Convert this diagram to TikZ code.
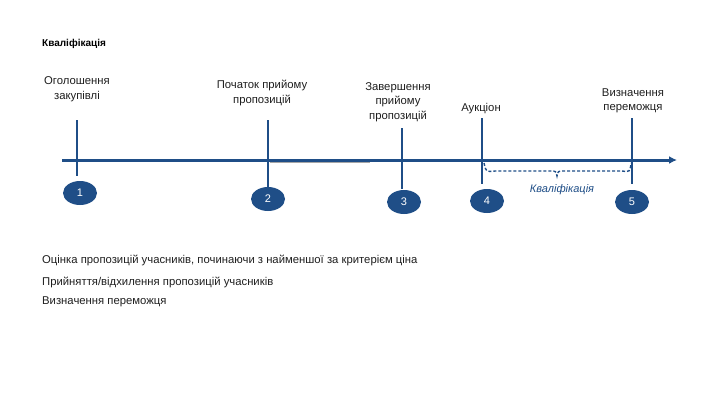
\documentclass[tikz,border=0pt]{standalone}
\usepackage{fontspec}
\setmainfont{Liberation Sans}
\usetikzlibrary{arrows.meta,shapes.geometric}
\definecolor{navy}{RGB}{31,78,135}
\definecolor{txt}{RGB}{30,30,30}
\begin{document}
\begin{tikzpicture}[x=1pt,y=-1pt,
  lbl/.style={font=\fontsize{11.3}{14.5}\selectfont,text=txt,align=center,inner sep=0},
  num/.style={ellipse,fill=navy,text=white,minimum width=34,minimum height=24,inner sep=0,font=\fontsize{11}{12}\selectfont},
  tick/.style={draw=navy,line width=2pt},
  body/.style={font=\fontsize{11.3}{14}\selectfont,text=txt,anchor=west,inner sep=0}]
\useasboundingbox (0,0) rectangle (720,405);
\node[font=\bfseries\fontsize{10}{12}\selectfont,anchor=west,inner sep=0] (t) at (42,44) {Кваліфікація};
\coordinate (a0) at (62,160); \coordinate (a1) at (677,160);
\draw[gray!70,line width=1.8pt] (270,162.5) -- (370,162.5);
\draw[navy,line width=3pt,-{Latex[length=8pt,width=8pt]}] (a0) -- (a1);
\node[num] (n1) at (80,193) {1};
\node[num] (n2) at (268,199) {2};
\node[num] (n3) at (404,202) {3};
\node[num] (n4) at (487,201) {4};
\node[num] (n5) at (632,202) {5};
\coordinate (t1) at (77,120); \coordinate (t2) at (268,120); \coordinate (t3) at (402,128);
\coordinate (t4) at (482,118); \coordinate (t5) at (632,118);
\draw[tick] (t1) -- (77,176);
\draw[tick] (t2) -- (268,187);
\draw[tick] (t3) -- (402,189);
\draw[tick] (t4) -- (482,184);
\draw[tick] (t5) -- (632,184);
\node[lbl] (l1) at (77,89) {Оголошення\\закупівлі};
\node[lbl] (l2) at (262,93) {Початок прийому\\пропозицій};
\node[lbl] (l3) at (398,102) {Завершення\\прийому\\пропозицій};
\node[lbl] (l4) at (481,109) {Аукціон};
\node[lbl] (l5) at (633,101) {Визначення\\переможця};
\draw[navy,densely dashed,line width=1.4pt] (484,163) .. controls (486,172) .. (495,171) -- (550,171) .. controls (556,171) .. (557,176) .. controls (558,171) .. (564,171) -- (622,171) .. controls (630,172) .. (631,163);
\node[lbl,font=\itshape\fontsize{11}{12}\selectfont,text=navy] (q) at (562,190) {Кваліфікація};
\node[body] (b1) at (42,260) {Оцінка пропозицій учасників, починаючи з найменшої за критерієм ціна};
\node[body] (b2) at (42,282) {Прийняття/відхилення пропозицій учасників};
\node[body] (b3) at (42,302) {Визначення переможця};
\end{tikzpicture}
\end{document}
